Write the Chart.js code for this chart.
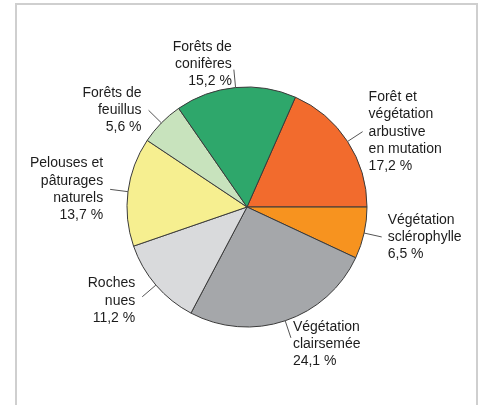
<!DOCTYPE html>
<html>
<head>
<meta charset="utf-8">
<script src="https://cdn.jsdelivr.net/npm/chart.js@4/dist/chart.umd.min.js"></script>
<style>
  html, body { margin: 0; padding: 0; background: #fff; }
  #wrap { position: relative; width: 483px; height: 405px; overflow: hidden; }
  #frame { position: absolute; left: 15px; top: 3px; width: 459px; height: 420px;
           border: 2px solid #cfcfcf; border-bottom: none; }
  canvas { position: absolute; left: 0; top: 0; }
</style>
</head>
<body>
<div id="wrap">
  <div id="frame"></div>
  <canvas id="pie" width="483" height="405"></canvas>
</div>
<script>
// Catégories (lignes du libellé), parts en %, couleurs
var CATEGORIES = [
  ['Forêt et', 'végétation', 'arbustive', 'en mutation'],
  ['Végétation', 'sclérophylle'],
  ['Végétation', 'clairsemée'],
  ['Roches', 'nues'],
  ['Pelouses et', 'pâturages', 'naturels'],
  ['Forêts de', 'feuillus'],
  ['Forêts de', 'conifères']
];
var VALUES = [17.2, 6.5, 24.1, 11.2, 13.7, 5.6, 15.2];
var COLORS = ['#f26b2d', '#f7931f', '#a5a7aa', '#d9dadc', '#f6ef90', '#c8e3bd', '#2ea76b'];

var FONT = '14px "Liberation Sans", Arial, sans-serif';
var LH = 17.3;

function fmt(v) { return v.toFixed(1).replace('.', ',') + ' %'; }

// libellés extérieurs avec traits de rappel
var outLabels = {
  id: 'outLabels',
  afterDatasetsDraw: function (chart) {
    var ctx = chart.ctx;
    var meta = chart.getDatasetMeta(0);
    ctx.save();
    ctx.font = FONT;
    ctx.fillStyle = '#1c1c1c';
    ctx.strokeStyle = '#555';
    ctx.lineWidth = 1;
    ctx.textBaseline = 'middle';
    meta.data.forEach(function (arc, i) {
      var p = arc.getProps(['x', 'y', 'startAngle', 'endAngle', 'outerRadius'], true);
      var mid = (p.startAngle + p.endAngle) / 2;
      var c = Math.cos(mid), s = Math.sin(mid);
      var r = p.outerRadius;
      var x1 = p.x + c * r, y1 = p.y + s * r;
      var x2 = p.x + c * (r + 18), y2 = p.y + s * (r + 18);
      ctx.beginPath();
      ctx.moveTo(x1, y1);
      ctx.lineTo(x2, y2);
      ctx.stroke();

      var lines = CATEGORIES[i].concat([fmt(VALUES[i])]);
      var n = lines.length, tx, ty;
      if (s < -0.95) {          // en haut
        ctx.textAlign = 'right';
        tx = x2 - 2;
        ty = y2 + 12 - (n - 1) * LH;
      } else if (s > 0.9) {     // en bas
        ctx.textAlign = 'left';
        tx = x2 + 2;
        ty = y2 - 11;
      } else {
        ctx.textAlign = c > 0 ? 'left' : 'right';
        tx = c > 0 ? x2 + 6 : x2 - 7;
        ty = y2 - (n - 1) * LH / 2 + (s > 0.5 ? 4 : 0);
      }
      lines.forEach(function (t, k) { ctx.fillText(t, tx, ty + k * LH); });
    });
    ctx.restore();
  }
};

new Chart(document.getElementById('pie'), {
  type: 'pie',
  data: {
    labels: CATEGORIES,
    datasets: [{
      data: VALUES,
      backgroundColor: COLORS,
      borderColor: '#3a3a3a',
      borderWidth: 1,
      hoverOffset: 0
    }]
  },
  options: {
    responsive: false,
    animation: false,
    rotation: 23.8,
    radius: 120,
    layout: { padding: { left: 60, right: 49, top: 87, bottom: 78 } },
    plugins: {
      legend: { display: false },
      tooltip: { enabled: false }
    }
  },
  plugins: [outLabels]
});
</script>
</body>
</html>
